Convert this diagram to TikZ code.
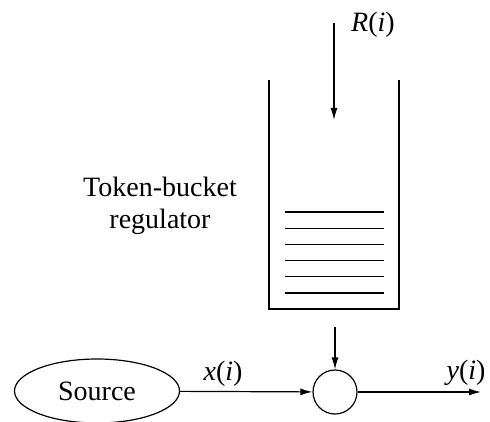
\documentclass[tikz,border=0pt]{standalone}
\usepackage{fontspec}
\setmainfont{Liberation Serif}
\usetikzlibrary{arrows.meta,shapes.geometric}
\begin{document}
\begin{tikzpicture}[x=0.5pt, y=-0.5pt, line width=0.6pt, font=\fontsize{14}{16}\selectfont,
    >={Latex[length=6pt,width=3.5pt]}]
    \useasboundingbox (0,0) rectangle (490,421);
    % bucket corners
    \coordinate (TL) at (269,80);
    \coordinate (BL) at (269,309);
    \coordinate (BR) at (399,309);
    \coordinate (TR) at (399,80);
    \coordinate (Rtop) at (334,23);
    \coordinate (Rend) at (334,120);
    \coordinate (out) at (335,327);
    \coordinate (yend) at (481,392);

    % bucket and tokens
    \draw (TL) -- (BL) -- (BR) -- (TR);
    \foreach \k in {0,...,5}
        \draw (285,212+16.2*\k) -- (384,212+16.2*\k);
    \node (reg) at (160,206) [align=center] {Token-bucket\\regulator};

    % token rate
    \draw[->] (Rtop) -- (Rend);
    \node (R) at (373,25) {\textit{R}(\textit{i})};

    % source and output
    \node (src) at (97,391) [ellipse, draw, minimum width=82.5pt, minimum height=32pt] {Source};
    \node (sum) at (335,392) [circle, draw, minimum size=22pt, inner sep=0pt] {};
    \draw[->] (out) -- (sum);
    \draw[->] (src) -- (sum);
    \draw[->] (sum) -- (yend);
    \node (x) at (223,374) {\textit{x}(\textit{i})};
    \node (y) at (466,373) {\textit{y}(\textit{i})};
\end{tikzpicture}
\end{document}
